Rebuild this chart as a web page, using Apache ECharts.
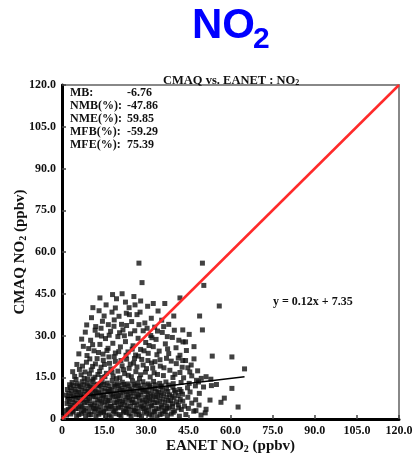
<!DOCTYPE html>
<html>
<head>
<meta charset="utf-8">
<script src="https://cdn.jsdelivr.net/npm/echarts@6/dist/echarts.min.js"></script>
<style>
  html, body { margin: 0; padding: 0; background: #fff; }
  #chart { width: 414px; height: 454px; }
</style>
</head>
<body>
<div id="chart"></div>
<script>
// [EANET obs, CMAQ model] NO2 pairs in ppbv
const denseCore = [
  [3.1,1.8],[5.2,1.1],[6.9,2.0],[8.4,0.9],[10.3,1.6],[12.1,1.0],[13.8,2.2],[15.6,1.2],[17.5,0.8],[19.2,1.9],[21.0,1.1],[22.9,2.3],[24.6,1.0],[26.4,1.7],[28.3,0.9],[30.1,2.1],[32.0,1.3],[33.8,0.8],[35.7,1.9],[37.5,1.2],[39.6,2.4],[41.8,1.0],[44.1,1.6],[46.9,2.8],[49.5,1.4],
  [3.9,2.5],[6.0,1.6],[7.8,2.6],[9.6,1.5],[11.4,2.7],[13.1,1.7],[14.9,2.4],[16.8,1.5],[18.6,2.6],[20.4,1.6],[22.1,2.5],[23.9,1.8],[25.7,2.8],[27.5,1.5],[29.3,2.6],[31.2,1.7],[33.0,2.5],[34.9,1.6],[36.8,2.7],[38.9,1.8],
  [2.2,3.4],[4.0,2.9],[5.9,3.7],[7.7,3.1],[9.5,2.7],[11.2,3.9],[13.0,3.2],[14.8,2.8],[16.6,3.6],[18.3,3.0],[20.1,4.0],[21.9,2.9],[23.7,3.5],[25.5,3.1],[27.2,2.7],[29.0,3.8],[30.8,3.2],[32.7,2.8],[34.5,3.6],[36.3,3.0],[38.2,3.9],[40.1,2.9],[42.5,3.4],[45.0,3.8],[47.7,3.0],[51.3,3.5],
  [2.9,4.3],[4.8,3.8],[6.6,4.4],[8.4,3.9],[10.1,4.5],[11.9,3.7],[13.8,4.3],[15.6,3.9],[17.3,4.6],[19.1,3.8],[20.9,4.4],[22.7,3.9],[24.5,4.5],[26.3,3.7],[28.1,4.4],[29.9,4.0],[31.7,4.6],[33.5,3.8],[35.4,4.3],[37.3,3.9],[39.4,4.5],[41.6,4.0],
  [1.8,5.6],[3.5,4.9],[5.3,5.5],[7.1,4.8],[8.9,5.9],[10.6,5.1],[12.4,4.7],[14.2,5.8],[16.0,5.0],[17.7,4.6],[19.5,5.7],[21.3,5.2],[23.1,4.8],[24.9,5.9],[26.6,5.1],[28.4,4.7],[30.2,5.6],[32.0,4.9],[33.9,5.8],[35.6,5.0],[37.4,4.6],[39.3,5.5],[41.4,5.1],[43.6,4.6],[46.2,5.7],[48.8,5.0],
  [2.6,6.3],[4.5,5.9],[6.3,6.5],[8.0,6.0],[9.8,6.6],[11.6,5.8],[13.4,6.4],[15.2,6.1],[16.9,6.6],[18.7,5.9],[20.5,6.3],[22.3,6.0],[24.0,6.7],[25.8,5.8],[27.6,6.4],[29.4,6.1],[31.2,6.6],[33.0,5.9],[34.8,6.4],[36.7,6.0],[38.7,6.5],[40.8,6.1],[43.0,6.4],
  [2.0,7.4],[3.8,6.9],[5.6,7.7],[7.4,6.8],[9.2,7.3],[11.0,7.9],[12.7,6.9],[14.5,7.5],[16.3,6.7],[18.1,7.8],[19.8,7.1],[21.6,6.6],[23.4,7.6],[25.2,7.0],[27.0,7.9],[28.7,6.8],[30.5,7.4],[32.3,6.9],[34.1,7.8],[35.9,7.1],[37.8,6.7],[39.9,7.6],[42.1,7.0],[44.8,7.8],[47.6,6.9],
  [3.1,8.2],[4.9,7.9],[6.7,8.4],[8.5,7.9],[10.3,8.5],[12.0,8.0],[13.8,8.3],[15.6,7.9],[17.4,8.5],[19.2,8.1],[20.9,8.4],[22.7,7.9],[24.5,8.3],[26.3,8.0],[28.1,8.6],[29.8,7.9],[31.6,8.3],[33.4,8.0],[35.3,8.5],[37.3,7.9],[39.2,8.2],[41.3,8.4],
  [2.4,9.2],[4.1,8.7],[5.9,9.5],[7.7,8.8],[9.4,9.7],[11.2,8.9],[13.0,9.4],[14.8,8.6],[16.5,9.8],[18.3,9.0],[20.1,8.6],[21.8,9.6],[23.6,8.9],[25.4,9.4],[27.2,8.7],[28.9,9.9],[30.7,9.1],[32.5,8.6],[34.4,9.5],[36.2,9.0],[38.3,8.7],[40.4,9.6],[42.9,8.9],[45.6,9.7],[48.9,9.2],
  [3.4,10.1],[5.2,9.8],[7.0,10.3],[8.8,9.9],[10.6,10.4],[12.3,9.8],[14.1,10.2],[15.9,9.9],[17.7,10.4],[19.5,10.0],[21.3,10.3],[23.0,9.8],[24.8,10.2],[26.6,10.0],[28.4,10.5],[30.2,9.9],[32.0,10.2],[33.8,9.8],[35.7,10.4],[37.7,9.9],[40.0,10.3],[42.4,9.9],
  [3.0,11.3],[4.7,10.6],[6.5,11.6],[8.2,10.8],[10.0,11.4],[11.8,10.5],[13.6,11.8],[15.3,11.0],[17.1,10.6],[18.9,11.7],[20.7,10.9],[22.4,11.4],[24.2,10.7],[26.0,11.8],[27.8,11.0],[29.6,10.5],[31.4,11.5],[33.2,10.9],[35.1,11.6],[37.2,10.8],[39.5,11.4],[41.9,10.6],[44.7,11.2],[47.5,11.9],[50.4,11.5],[53.2,12.0],
  [4.2,12.0],[6.0,11.9],[7.8,12.3],[9.6,11.9],[11.3,12.2],[13.1,12.0],[14.9,12.4],[16.7,11.9],[18.5,12.2],[20.2,12.0],[22.0,12.4],[23.8,11.9],[25.6,12.3],[27.4,11.9],[29.3,12.2],[31.2,12.0],[33.2,12.3],[35.5,11.9],[38.0,12.2],
  [3.6,13.1],[5.4,12.6],[7.2,13.4],[9.0,12.8],[10.8,13.6],[12.6,12.5],[14.3,13.3],[16.1,12.9],[17.9,13.8],[19.7,12.7],[21.5,13.2],[23.3,12.6],[25.1,13.7],[26.9,12.9],[28.8,13.4],[30.7,12.6],[32.6,13.5],[34.8,12.8],[37.0,13.3],[39.6,12.7],[42.4,13.1],[45.3,12.8],[48.6,13.3],[55.0,12.4],
  [1.5,3.0],[1.4,8.6],[1.9,10.6],[2.7,12.3],[1.6,1.4]
];
const midBand = [
  [4.5,15.3],[6.2,17.8],[7.9,14.6],[8.7,20.4],[9.8,16.2],[10.9,18.9],[11.7,15.0],[12.5,21.7],[13.4,17.1],[14.2,14.9],[15.1,19.6],[15.8,16.4],[16.7,22.3],[17.4,18.0],[18.2,15.4],[19.0,20.7],[19.9,17.2],[20.6,14.8],[21.4,19.1],[22.3,16.3],[23.0,21.5],[23.9,18.2],[24.7,15.2],[25.5,20.1],[26.3,17.0],[27.2,22.6],[28.0,15.9],[28.9,19.4],[29.7,16.8],[30.6,21.0],[31.4,15.1],[32.3,18.3],[33.1,20.6],[34.0,16.0],[35.0,19.0],[36.1,15.6],[37.2,21.8],[38.4,17.5],[39.5,14.9],[40.7,19.9],[42.0,16.7],[43.3,14.8],[44.8,18.4],[46.2,15.5],[47.9,13.9],[49.6,14.6],[51.3,15.2],[53.0,14.3],[5.3,19.6],[3.8,17.0],
  [5.0,14.2],[6.8,15.9],[7.3,19.0],[8.2,16.9],[9.1,14.4],[9.9,21.6],[10.4,17.6],[11.1,14.3],[11.9,19.8],[12.8,16.0],[13.0,23.9],[13.9,18.6],[14.7,21.1],[15.3,15.2],[16.0,24.6],[16.9,20.0],[17.8,16.9],[18.6,22.4],[19.4,14.5],[20.2,24.2],[21.0,21.0],[21.9,17.7],[22.8,22.9],[23.6,15.7],[24.3,19.7],[25.0,25.1],[25.8,21.7],[26.7,18.7],[27.6,14.5],[28.4,21.4],[29.2,24.5],[30.1,18.1],[31.0,26.4],[31.9,20.1],[32.8,16.6],[33.8,23.1],[34.9,21.3],[36.3,18.4],[37.6,25.2],[38.9,20.8],[40.2,16.1],[41.4,21.9],[42.8,18.6],[44.3,24.6],[45.5,16.9],[47.0,21.6],[48.3,17.3],
  [6.0,23.4],[7.6,26.1],[8.9,22.8],[10.2,28.3],[11.4,24.5],[12.6,30.2],[13.5,26.8],[14.6,23.3],[15.5,28.9],[16.4,25.4],[17.3,31.5],[18.1,27.2],[19.0,23.7],[19.9,29.6],[20.8,25.9],[21.7,32.0],[22.6,27.8],[23.5,24.1],[24.4,30.6],[25.3,26.3],[26.2,23.0],[27.1,29.0],[28.0,25.0],[28.9,31.7],[29.8,27.5],[30.7,23.6],[31.6,30.0],[32.5,26.0],[33.5,28.6],[34.6,24.4],[35.7,31.1],[36.8,27.0],[38.0,23.5],[39.3,29.3],[40.6,25.6],[42.0,22.9],[43.1,27.7],[44.0,21.0],[46.0,19.4],[9.5,25.3],[13.9,32.6],
  [7.0,28.7],[8.3,31.2],[10.9,26.7],[11.8,31.9],[14.1,29.8],[16.8,30.1],[18.5,33.3],[20.5,31.0],[22.2,29.9],[23.0,33.6],[25.9,31.7],[27.4,33.9],[30.3,32.6],[32.0,29.2],[34.0,31.6],[36.2,33.2],[37.5,29.6],[40.0,31.9],[41.6,28.3],[45.3,30.4],[47.0,26.0]
];
const upperScatter = [
  [8.8,33.8],[10.5,36.4],[12.0,33.2],[13.2,38.9],[14.4,35.1],[15.7,41.0],[16.5,33.9],[17.8,38.4],[18.6,35.6],[19.4,43.2],[20.3,36.9],[21.2,34.0],[21.4,45.0],[22.6,42.0],[22.9,38.0],[23.9,40.0],[24.8,35.0],[25.6,44.0],[26.7,37.5],[27.8,38.4],[28.0,42.4],[28.5,49.0],[27.4,56.0],[29.5,34.5],[30.5,40.5],[31.8,36.2],[33.0,33.0],[34.2,38.8],[35.5,35.5],[38.0,34.0],[39.8,37.0],[42.0,43.5],[43.0,32.0],[44.0,27.7],[49.0,37.0],[50.0,32.0],[50.5,48.0],[56.0,40.6],[50.0,56.0],
  [15.0,37.0],[19.0,39.9],[11.0,40.0],[24.0,37.5],[26.0,41.0],[32.5,41.5],[36.6,41.5],[18.0,44.7],[13.5,43.5],
  [43.0,21.0],[53.5,22.6],[60.5,22.3],[65.0,18.0],[60.5,11.0],[57.8,7.5],[56.6,6.0],[52.7,6.8],[62.7,4.3],[51.0,2.2]
];
const statNames = ['MB:', 'NMB(%):', 'NME(%):', 'MFB(%):', 'MFE(%):'];
const statValues = ['-6.76', '-47.86', '59.85', '-59.29', '75.39'];
const fitSlope = 0.12;
const fitIntercept = 7.35;
const axisMax = 120;
const axisStep = 15;

const points = denseCore.concat(midBand, upperScatter);
const xs = points.map(p => p[0]);
const xLo = Math.min(...xs), xHi = Math.max(...xs);
const fitLine = [[xLo, fitSlope * xLo + fitIntercept], [xHi, fitSlope * xHi + fitIntercept]];

const serif = '"Liberation Serif", "DejaVu Serif", serif';
const sans = '"Liberation Sans", Arial, sans-serif';
const tickFmt = v => (v === 0 ? '0' : v.toFixed(1));
const subRich = { s: { fontFamily: serif, fontWeight: 'bold', fontSize: 10, verticalAlign: 'bottom', color: '#111' } };

const axisCommon = {
  type: 'value', min: 0, max: axisMax, interval: axisStep,
  axisLine: { lineStyle: { color: '#000', width: 3 } },
  axisTick: { inside: true, length: 4, lineStyle: { color: '#444', width: 1.5 } },
  axisLabel: { formatter: tickFmt, color: '#111', fontFamily: serif, fontWeight: 'bold', fontSize: 12, margin: 6 },
  splitLine: { show: false },
  nameLocation: 'middle',
  nameMoveOverlap: false,
  nameTextStyle: { fontFamily: serif, fontWeight: 'bold', fontSize: 15, color: '#111', rich: subRich }
};

const graphics = [
  // big blue title with a real subscript
  { type: 'text', x: 192, y: 26, style: { text: 'NO', font: 'bold 42px ' + sans, fill: '#0000ff', verticalAlign: 'middle' } },
  { type: 'text', x: 253, y: 40, style: { text: '2', font: 'bold 30px ' + sans, fill: '#0000ff', verticalAlign: 'middle' } }
];
statNames.forEach((n, i) => {
  graphics.push({ type: 'text', x: 70, y: 93 + i * 13,
    style: { text: n, font: 'bold 12px ' + serif, fill: '#111', verticalAlign: 'middle' } });
  graphics.push({ type: 'text', x: 127, y: 93 + i * 13,
    style: { text: statValues[i], font: 'bold 12px ' + serif, fill: '#111', verticalAlign: 'middle' } });
});
graphics.push({ type: 'text', x: 273, y: 302,
  style: { text: 'y = ' + fitSlope.toFixed(2) + 'x + ' + fitIntercept.toFixed(2), font: 'bold 12px ' + serif, fill: '#111', verticalAlign: 'middle' } });

const chart = echarts.init(document.getElementById('chart'));
chart.setOption({
  animation: false,
  title: {
    text: 'CMAQ vs. EANET : NO{s|2}', left: 163, top: 74, padding: 0,
    textStyle: { fontFamily: serif, fontWeight: 'bold', fontSize: 12.5, color: '#111',
      rich: { s: { fontFamily: serif, fontWeight: 'bold', fontSize: 8, color: '#111', verticalAlign: 'bottom' } } }
  },
  grid: { left: 62, top: 85, right: 15, bottom: 35, outerBoundsMode: 'none', show: true, borderColor: '#888', borderWidth: 2 },
  xAxis: Object.assign({}, axisCommon, { name: 'EANET NO{s|2} (ppbv)', nameGap: 20 }),
  yAxis: Object.assign({}, axisCommon, { name: 'CMAQ NO{s|2} (ppbv)', nameGap: 34 }),
  graphic: graphics,
  series: [
    { type: 'scatter', data: points, symbol: 'rect', symbolSize: 5, itemStyle: { color: '#111' }, z: 2 },
    { type: 'line', data: fitLine, symbol: 'none', lineStyle: { color: '#000', width: 1.5 }, z: 3 },
    { type: 'line', data: [[0, 0], [axisMax, axisMax]], symbol: 'none', lineStyle: { color: '#ff2a2a', width: 2.5 }, z: 4 }
  ]
});
</script>
</body>
</html>
